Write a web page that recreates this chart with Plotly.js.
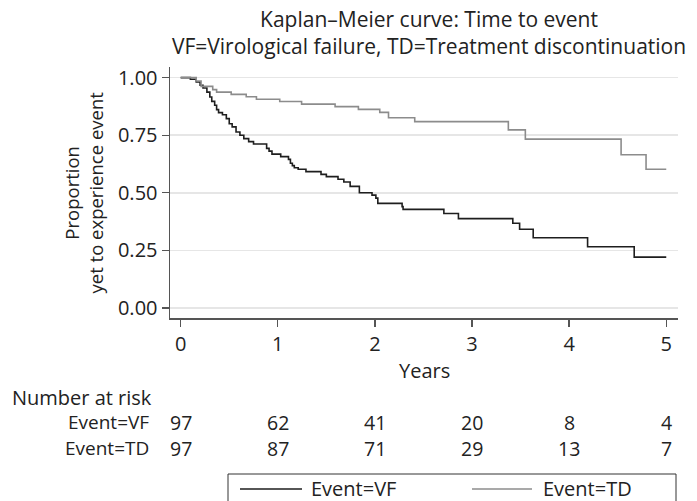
<!DOCTYPE html>
<html>
<head>
<meta charset="utf-8">
<script src="https://cdn.plot.ly/plotly-3.0.1.min.js"></script>
<style>html,body{margin:0;padding:0;background:#fff;}#chart{width:697px;height:501px;}</style>
</head>
<body>
<div id="chart"></div>
<script>
// Kaplan–Meier step data (years, survival proportion)
const vfTimes = [0, 0.10, 0.16, 0.20, 0.23, 0.27, 0.30, 0.32, 0.35, 0.37, 0.39, 0.43, 0.47, 0.50, 0.53, 0.57, 0.61, 0.65, 0.70, 0.75, 0.885, 0.91, 0.94, 1.03, 1.11, 1.13, 1.15, 1.17, 1.21, 1.29, 1.445, 1.50, 1.62, 1.68, 1.745, 1.84, 1.97, 2.01, 2.03, 2.28, 2.29, 2.71, 2.86, 3.42, 3.49, 3.63, 4.19, 4.67, 5.0];
const vfSurv  = [1.0, 0.993, 0.981, 0.967, 0.955, 0.937, 0.916, 0.897, 0.88, 0.861, 0.848, 0.839, 0.822, 0.80, 0.786, 0.764, 0.75, 0.735, 0.722, 0.712, 0.693, 0.681, 0.668, 0.657, 0.645, 0.628, 0.618, 0.609, 0.602, 0.592, 0.580, 0.570, 0.559, 0.547, 0.528, 0.50, 0.49, 0.477, 0.454, 0.44, 0.428, 0.41, 0.388, 0.368, 0.342, 0.305, 0.266, 0.221, 0.221];
const tdTimes = [0, 0.16, 0.21, 0.33, 0.37, 0.52, 0.675, 0.78, 1.02, 1.245, 1.59, 1.83, 2.05, 2.14, 2.41, 3.374, 3.549, 4.535, 4.792, 5.0];
const tdSurv  = [1.0, 0.985, 0.962, 0.948, 0.937, 0.927, 0.917, 0.906, 0.896, 0.885, 0.874, 0.862, 0.849, 0.826, 0.809, 0.773, 0.733, 0.665, 0.602, 0.602];

// Number at risk table
const riskYears = [0, 1, 2, 3, 4, 5];
const riskVF = [97, 62, 41, 20, 8, 4];
const riskTD = [97, 87, 71, 29, 13, 7];
const riskRowLabels = ["Event=VF", "Event=TD"];
const seriesNames = ["Event=VF", "Event=TD"];
const seriesColors = ["#1e1e1e", "#8c8c8c"];

const yTicks = [0, 0.25, 0.5, 0.75, 1.0];
const yTickText = ["0.00", "0.25", "0.50", "0.75", "1.00"];
const xTicks = [0, 1, 2, 3, 4, 5];

const FONT = "Open Sans, Noto Sans, sans-serif";
const FS = 20;
const TXT = "#222";

// Layout geometry (pixels)
const W = 697, H = 501;
const L = 170, R = 19, T = 67, B = 183;
const plotH = H - T - B, plotW = W - L - R;
const py = p => (H - B - p) / plotH; // pixel y -> paper y
const pxp = p => (p - L) / plotW;    // pixel x -> paper x

const traces = [
  {x: vfTimes, y: vfSurv, type: 'scatter', mode: 'lines', line: {shape: 'hv', color: seriesColors[0], width: 1.6}, name: seriesNames[0], showlegend: false},
  {x: tdTimes, y: tdSurv, type: 'scatter', mode: 'lines', line: {shape: 'hv', color: seriesColors[1], width: 1.6}, name: seriesNames[1], showlegend: false}
];

const f = (size) => ({family: FONT, size: size || FS, color: TXT});
const annotations = [];
annotations.push({text: 'Years', xref: 'paper', yref: 'paper', x: 0.5, y: py(370), showarrow: false, font: f(), xanchor: 'center', yanchor: 'middle'});
annotations.push({text: 'Number at risk', xref: 'paper', yref: 'paper', x: pxp(10), y: py(397), showarrow: false, font: f(), xanchor: 'left', yanchor: 'middle'});
const rows = [riskVF, riskTD];
const rowY = [422, 448];
rows.forEach((r, i) => {
  annotations.push({text: riskRowLabels[i], xref: 'paper', yref: 'paper', x: pxp(150), y: py(rowY[i]), showarrow: false, font: f(19), xanchor: 'right', yanchor: 'middle', borderpad: 0});
  r.forEach((v, j) => {
    annotations.push({text: String(v), xref: 'x', yref: 'paper', x: riskYears[j], y: py(rowY[i]), showarrow: false, font: f(19.5), xanchor: 'center', yanchor: 'middle', borderpad: 0});
  });
});
annotations.push({text: 'Proportion<br>yet to experience event', xref: 'paper', yref: 'paper', x: pxp(83), y: 0.5, textangle: -90, showarrow: false, font: f(18.5), xanchor: 'center', yanchor: 'middle'});

// Manual legend box (below the risk table)
const legTop = 474, legY = 489;
const shapes = [
  {type: 'rect', xref: 'paper', yref: 'paper', x0: pxp(228), x1: pxp(676), y0: py(legTop), y1: py(503), line: {color: '#333', width: 1}, fillcolor: 'rgba(0,0,0,0)'},
  {type: 'line', xref: 'paper', yref: 'paper', x0: pxp(240), x1: pxp(302), y0: py(legY), y1: py(legY), line: {color: seriesColors[0], width: 1.6}},
  {type: 'line', xref: 'paper', yref: 'paper', x0: pxp(472), x1: pxp(532), y0: py(legY), y1: py(legY), line: {color: seriesColors[1], width: 1.6}}
];
annotations.push({text: seriesNames[0], xref: 'paper', yref: 'paper', x: pxp(309), y: py(legY), showarrow: false, font: f(), xanchor: 'left', yanchor: 'middle'});
annotations.push({text: seriesNames[1], xref: 'paper', yref: 'paper', x: pxp(541), y: py(legY), showarrow: false, font: f(), xanchor: 'left', yanchor: 'middle'});

const layout = {
  width: W, height: H,
  margin: {l: L, r: R, t: T, b: B},
  paper_bgcolor: '#fff', plot_bgcolor: '#fff',
  font: f(),
  title: {text: 'Kaplan–Meier curve: Time to event<br>VF=Virological failure, TD=Treatment discontinuation', x: 0.5 + 5/plotW, xref: 'paper', xanchor: 'center', y: 1, yref: 'paper', yanchor: 'bottom', pad: {b: 40}, font: f(21)},
  xaxis: {range: [-0.110, 5.121], tickvals: xTicks, ticks: 'outside', ticklen: 7, tickcolor: '#555', tickwidth: 1.3, showline: true, linecolor: '#555', linewidth: 1.5, showgrid: false, zeroline: false, tickfont: f(), fixedrange: true},
  yaxis: {range: [-0.0434, 1.046], tickvals: yTicks, ticktext: yTickText, ticks: 'outside', ticklen: 7, tickcolor: '#555', tickwidth: 1.3, showline: true, linecolor: '#555', linewidth: 1.5, showgrid: true, gridcolor: '#e6e6e6', gridwidth: 1.5, zeroline: false, tickfont: f(), fixedrange: true},
  showlegend: false,
  shapes: shapes,
  annotations: annotations
};

Plotly.newPlot('chart', traces, layout, {displayModeBar: false, staticPlot: true});
</script>
</body>
</html>
